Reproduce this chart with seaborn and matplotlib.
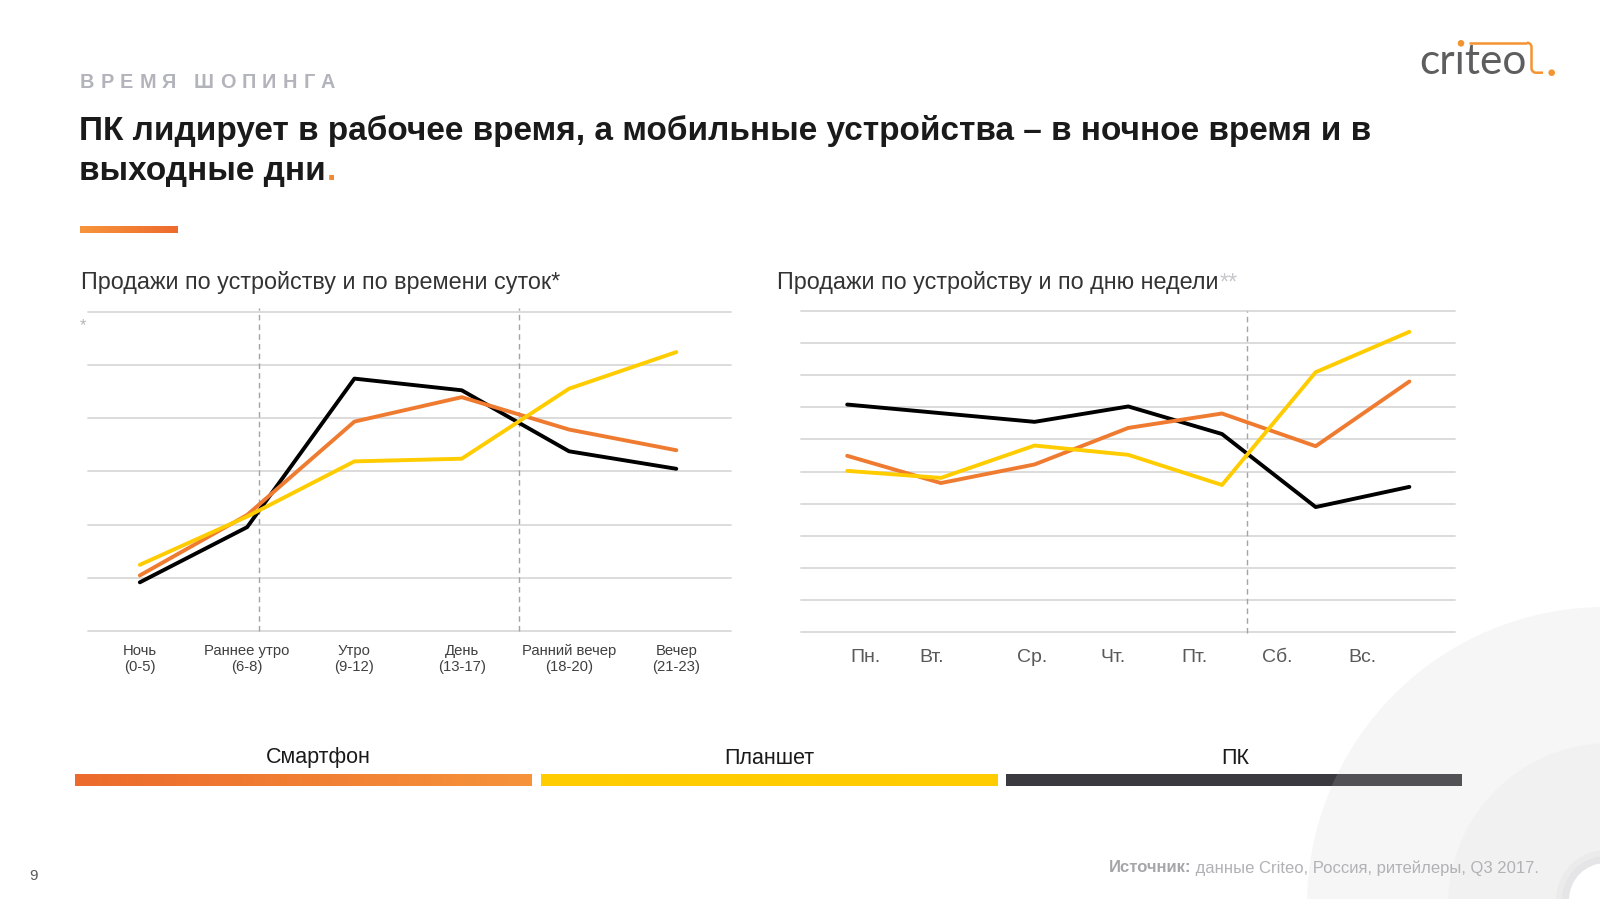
import numpy as np
import pandas as pd
import matplotlib
matplotlib.use("Agg")
import matplotlib.pyplot as plt
import matplotlib.colors as mcolors
from matplotlib.patches import Ellipse
from matplotlib.lines import Line2D
import seaborn as sns

# ---------------- data ----------------
devices = ["Смартфон", "Планшет", "ПК"]

time_labels = ["Ночь\n(0-5)", "Раннее утро\n(6-8)", "Утро\n(9-12)", "День\n(13-17)",
               "Ранний вечер\n(18-20)", "Вечер\n(21-23)"]
time_smartphone = [1.04, 2.18, 3.94, 4.40, 3.79, 3.40]
time_tablet = [1.24, 2.15, 3.19, 3.24, 4.56, 5.25]
time_pc = [0.91, 1.95, 4.75, 4.53, 3.38, 3.05]

day_labels = ["Пн.", "Вт.", "Ср.", "Чт.", "Пт.", "Сб.", "Вс."]
day_smartphone = [5.49, 4.64, 5.22, 6.36, 6.81, 5.79, 7.81]
day_tablet = [5.02, 4.80, 5.81, 5.52, 4.58, 8.10, 9.36]
day_pc = [7.09, 6.82, 6.55, 7.03, 6.17, 3.89, 4.52]

title_kicker = "ВРЕМЯ ШОПИНГА"
title_line1 = "ПК лидирует в рабочее время, а мобильные устройства – в ночное время и в"
title_line2 = "выходные дни"
chart1_title = "Продажи по устройству и по времени суток*"
chart2_title = "Продажи по устройству и по дню недели"
source_bold = "Источник:"
source_rest = " данные Criteo, Россия, ритейлеры, Q3 2017."

# ---------------- style ----------------
sns.set_style("white")
plt.rcParams["font.family"] = ["Liberation Sans", "DejaVu Sans"]

palette = {"Смартфон": "#EF7B30", "Планшет": "#FFCC00", "ПК": "#000000"}
hue_order = ["ПК", "Смартфон", "Планшет"]

W, H = 1600, 899
fig = plt.figure(figsize=(16, 8.99), dpi=100)
fig.patch.set_facecolor("white")


def fx(x):
    return x / W


def fy(y):
    return 1 - y / H


def long_df(values_by_device):
    rows = []
    for dev in hue_order:
        for i, v in enumerate(values_by_device[dev]):
            rows.append({"pos": i, "value": v, "device": dev})
    return pd.DataFrame(rows)


grid_col = "#d9d9d9"
sep_col = "#a3a3a8"

# ---------------- left chart ----------------
ax1 = fig.add_axes([fx(87.8), fy(630.6), fx(730.6) - fx(87.8), fy(312.3) - fy(630.6)])
ax1.set_facecolor("none")
df_time = long_df({"Смартфон": time_smartphone, "Планшет": time_tablet, "ПК": time_pc})
sns.lineplot(data=df_time, x="pos", y="value", hue="device", hue_order=hue_order,
             palette=palette, linewidth=2.8, ax=ax1, legend=False, sort=False,
             estimator=None, zorder=3)
ax1.set_xlim(-0.485, 5.506)
ax1.set_ylim(0, 6)
for yv in range(0, 7):
    ax1.axhline(yv, color=grid_col, lw=1.3, zorder=0, clip_on=False)
for xv in [1.111, 3.538]:
    ax1.axvline(xv, ymin=0, ymax=1.014, color=sep_col, lw=1.0, ls=(0, (4, 3)),
                zorder=1, clip_on=False)
ax1.set_xticks(range(len(time_labels)))
ax1.set_xticklabels(time_labels, fontsize=10.7, color="#404040", linespacing=1.2)
ax1.set_yticks([])
ax1.tick_params(axis="x", length=0, pad=9.5)
ax1.set_xlabel("")
ax1.set_ylabel("")
for s in ax1.spines.values():
    s.set_visible(False)

# ---------------- right chart ----------------
ax2 = fig.add_axes([fx(801), fy(631.7), fx(1455) - fx(801), fy(311.3) - fy(631.7)])
ax2.set_facecolor("none")
df_day = long_df({"Смартфон": day_smartphone, "Планшет": day_tablet, "ПК": day_pc})
sns.lineplot(data=df_day, x="pos", y="value", hue="device", hue_order=hue_order,
             palette=palette, linewidth=2.8, ax=ax2, legend=False, sort=False,
             estimator=None, zorder=3)
ax2.set_xlim(-0.493, 6.487)
ax2.set_ylim(0, 10)
for yv in range(0, 11):
    ax2.axhline(yv, color=grid_col, lw=1.3, zorder=0, clip_on=False)
ax2.axvline(4.265, ymin=-0.005, ymax=1.0, color=sep_col, lw=1.0, ls=(0, (4, 3)),
            zorder=1, clip_on=False)
day_label_pos = [0.20, 0.90, 1.97, 2.84, 3.71, 4.59, 5.50]
ax2.set_xticks(day_label_pos)
ax2.set_xticklabels(day_labels, fontsize=14, color="#595959")
ax2.set_yticks([])
ax2.tick_params(axis="x", length=0, pad=12.5)
ax2.set_xlabel("")
ax2.set_ylabel("")
for s in ax2.spines.values():
    s.set_visible(False)


# ---------------- gradient bars ----------------
def grad_bar(x0, x1, y0, y1, c0, c1):
    ax = fig.add_axes([fx(x0), fy(y1), fx(x1) - fx(x0), fy(y0) - fy(y1)])
    a = np.array(mcolors.to_rgb(c0))
    b = np.array(mcolors.to_rgb(c1))
    t = np.linspace(0, 1, 256)[None, :, None]
    img = a + (b - a) * t
    ax.imshow(img, aspect="auto", extent=[0, 1, 0, 1], interpolation="bilinear")
    ax.set_axis_off()
    return ax


grad_bar(79.6, 177.5, 225.5, 232.7, "#F7953C", "#EE6A2D")
grad_bar(74.5, 530.6, 773.5, 785.7, "#EC6A2C", "#F6933B")
grad_bar(540.8, 997.0, 773.5, 785.7, "#FFCC00", "#FFCC00")
grad_bar(1006.0, 1462.0, 773.5, 785.7, "#3A3A3F", "#3A3A3F")


# ---------------- decorative circles ----------------
def circle(cx, cy, r, color, alpha, z):
    e = Ellipse((fx(cx), fy(cy)), 2 * r / W, 2 * r / H, transform=fig.transFigure,
                facecolor=color, edgecolor="none", alpha=alpha, zorder=z)
    fig.patches.append(e)


circle(1605, 905, 298, (0.80, 0.80, 0.80), 0.17, 1)
circle(1610, 905, 162, (0.80, 0.80, 0.80), 0.10, 1.1)
circle(1606, 900, 50, (0.75, 0.75, 0.77), 0.10, 1.2)
circle(1606, 900, 44, (0.75, 0.75, 0.77), 0.12, 1.3)
circle(1606, 900, 37, (1, 1, 1), 1.0, 1.4)

# ---------------- texts ----------------
renderer = fig.canvas.get_renderer()

# kicker with letter spacing
cur = 80.0
ksize = 14.3
kgap = 6.1
for ch in title_kicker:
    if ch == " ":
        cur += ksize * 1.389 * 0.28 + kgap
        continue
    t = fig.text(fx(cur), fy(88), ch, fontsize=ksize, fontweight="bold",
                 color="#b3b3bb", va="baseline", ha="left", zorder=3)
    cur += t.get_window_extent(renderer).width + kgap

fig.text(fx(79), fy(140), title_line1, fontsize=24, fontweight="bold",
         color="#1a1a1a", va="baseline", ha="left", zorder=3)
t2 = fig.text(fx(79), fy(180), title_line2, fontsize=24, fontweight="bold",
              color="#1a1a1a", va="baseline", ha="left", zorder=3)
bb = t2.get_window_extent(renderer)
fig.text(fx(bb.x1 + 1), fy(180), ".", fontsize=24, fontweight="bold",
         color="#F08A32", va="baseline", ha="left", zorder=3)

fig.text(fx(81), fy(289.3), chart1_title, fontsize=16.8, color="#333333",
         va="baseline", ha="left", zorder=3)
t3 = fig.text(fx(777), fy(289.3), chart2_title, fontsize=16.8, color="#333333",
              va="baseline", ha="left", zorder=3)
bb3 = t3.get_window_extent(renderer)
fig.text(fx(bb3.x1 + 1), fy(289.3), "**", fontsize=16.8, color="#c8c8cc",
         va="baseline", ha="left", zorder=3)
fig.text(fx(80), fy(326), "*", fontsize=12, color="#b5b5b5", va="center",
         ha="left", zorder=3)

# legend labels
for name, xc in zip(devices, [318, 769, 1235]):
    fig.text(fx(xc), fy(758), name, fontsize=15.5, color="#1a1a1a",
             va="center", ha="center", zorder=3)

# source
ts = fig.text(fx(1538.8), fy(868), source_rest, fontsize=12, color="#b2b2b6",
              va="center", ha="right", zorder=3)
bbs = ts.get_window_extent(renderer)
fig.text(fx(bbs.x0), fy(868), source_bold, fontsize=12, fontweight="bold",
         color="#a6a6aa", va="center", ha="right", zorder=3)

fig.text(fx(29.5), fy(876), "9", fontsize=11, color="#595959", va="center",
         ha="left", zorder=3)

# ---------------- logo ----------------
fig.text(fx(1419), fy(74.5), "crıteo", fontsize=30.5, family=["Lato", "DejaVu Sans"],
         color="#5e5e60", va="baseline", ha="left", zorder=3)
logo_or = "#F39431"
fig.lines.append(Line2D([fx(1469), fx(1527)], [fy(42.7), fy(42.7)],
                        transform=fig.transFigure, color=logo_or, lw=1.8,
                        solid_capstyle="butt"))
arc_t = np.linspace(0, np.pi / 2, 12)
xs = [1527] + list(1527 + 4.5 * np.sin(arc_t)) + [1531.5, 1531.5]
ys = [42.7] + list(47.2 - 4.5 * np.cos(arc_t)) + [47.2, 68.2]
arc2 = list(1531.5 + 4.5 * (1 - np.cos(arc_t)))
ys2 = list(68.2 + 4.5 * np.sin(arc_t))
xs = xs + arc2 + [1543]
ys = ys + ys2 + [72.7]
fig.lines.append(Line2D([fx(v) for v in xs], [fy(v) for v in ys],
                        transform=fig.transFigure, color=logo_or, lw=1.8,
                        solid_capstyle="butt", solid_joinstyle="round"))
circle(1461, 43.3, 3.3, logo_or, 1.0, 3)
circle(1551.7, 72.7, 3.3, logo_or, 1.0, 3)

fig.savefig("out.png", dpi=100, facecolor="white")
